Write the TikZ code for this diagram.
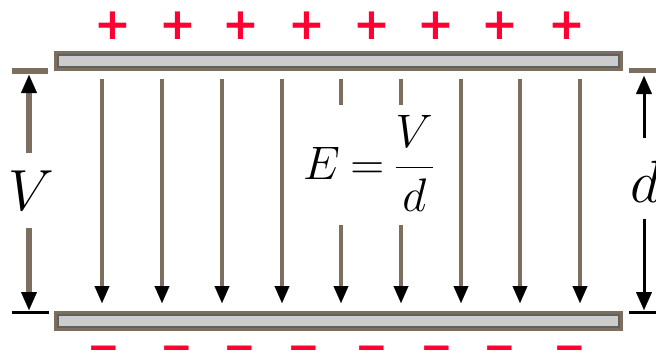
\RequirePackage{fix-cm}
\documentclass[tikz,border=0pt]{standalone}
\usepackage{amsmath}
\usepackage{fontspec}
\newfontfamily\dvs{DejaVu Sans}
\usetikzlibrary{arrows.meta}
\definecolor{pbrown}{HTML}{7D6F5F}
\definecolor{pgrey}{HTML}{606060}
\definecolor{plight}{HTML}{CCCCCC}
\definecolor{cred}{HTML}{FF0033}
\tikzset{
  plate/.style={fill=pbrown, minimum width=569pt, minimum height=20pt, inner sep=0pt},
  fieldline/.style={pbrown, line width=4.5pt},
  field/.style={fieldline, -{Triangle[length=17pt,width=15pt,color=black,line width=0.1pt]}},
  plus/.style={text=cred, font=\fontsize{44}{44}\selectfont\dvs\bfseries, inner sep=0pt},
  minus/.style={text=cred, font=\fontsize{39}{39}\selectfont\dvs\bfseries, inner sep=0pt},
  dimbrown/.style={pbrown, line width=5.5pt},
  dimblack/.style={black, line width=3pt},
  tipup/.style={-{Triangle[length=18pt,width=16pt,color=black,line width=0.1pt]}},
}
\begin{document}
\begin{tikzpicture}[x=1pt,y=-1pt]
\useasboundingbox (0,0) rectangle (656,356);
% plates
\node[plate] (top) at (338.5,61) {};
\node[plate] (bot) at (338.5,321) {};
\filldraw[plight, draw=pgrey, line width=2pt] ([xshift=4pt,yshift=-4pt]top.north west) rectangle ([xshift=-4pt,yshift=4pt]top.south east);
\filldraw[plight, draw=pgrey, line width=2pt] ([xshift=4pt,yshift=-4pt]bot.north west) rectangle ([xshift=-4pt,yshift=4pt]bot.south east);
% field lines
\foreach \i/\x in {1/102,2/162,3/222,4/282,5/341,6/401,7/461,8/520,9/580}{
  \coordinate (t\i) at (\x,79);
  \coordinate (b\i) at (\x,303);
}
\foreach \i in {1,2,3,4,7,8,9}{\draw[field] (t\i) -- (b\i);}
\coordinate (m5a) at (341,105); \coordinate (m5b) at (341,225);
\coordinate (m6a) at (401,105); \coordinate (m6b) at (401,225);
\draw[fieldline] (t5) -- (m5a); \draw[field] (m5b) -- (b5);
\draw[fieldline] (t6) -- (m6a); \draw[field] (m6b) -- (b6);
% formula
\node[anchor=base, inner sep=0pt] (formula) at (368.5,179.5) {\fontsize{47}{56}\selectfont$E\mkern4mu{=}\mkern4mu\dfrac{V}{d}$};
% left dimension V
\coordinate (Ltl) at (12,71); \coordinate (Ltr) at (48,71);
\coordinate (Lbl) at (12,312); \coordinate (Lbr) at (49,312);
\coordinate (La1) at (29,153); \coordinate (La2) at (29,75);
\coordinate (Lb1) at (29,228); \coordinate (Lb2) at (29,310);
\draw[dimbrown] (Ltl) -- (Ltr);
\draw[dimblack] (Lbl) -- (Lbr);
\draw[dimbrown, tipup] (La1) -- (La2);
\draw[dimbrown, tipup] (Lb1) -- (Lb2);
\node[inner sep=0pt] (Vlab) at (31,191) {\fontsize{58}{60}\selectfont$V$};
% right dimension d
\coordinate (Rtl) at (629,70.5); \coordinate (Rtr) at (656,70.5);
\coordinate (Rbl) at (629,312); \coordinate (Rbr) at (656,312);
\coordinate (Ra1) at (644,138); \coordinate (Ra2) at (644,76);
\coordinate (Rb1) at (644,219); \coordinate (Rb2) at (644,310);
\draw[dimbrown] (Rtl) -- (Rtr);
\draw[dimblack] (Rbl) -- (Rbr);
\draw[dimblack, tipup] (Ra1) -- (Ra2);
\draw[dimblack, tipup] (Rb1) -- (Rb2);
\node[anchor=base west, inner sep=0pt] (dlab) at (630,202) {\fontsize{60}{60}\selectfont$d$};
% charges
\foreach \i/\x in {1/113,2/178,3/241,4/307,5/372,6/436,7/500,8/567}{
  \node[plus] (p\i) at (\x,26) {+};
}
\foreach \i/\x in {1/104,2/177,3/240,4/304,5/372,6/437,7/500,8/570}{
  \node[minus, anchor=base] (n\i) at (\x,352) {\raisebox{-8.8pt}[5pt][0pt]{−}};
}
\end{tikzpicture}
\end{document}
